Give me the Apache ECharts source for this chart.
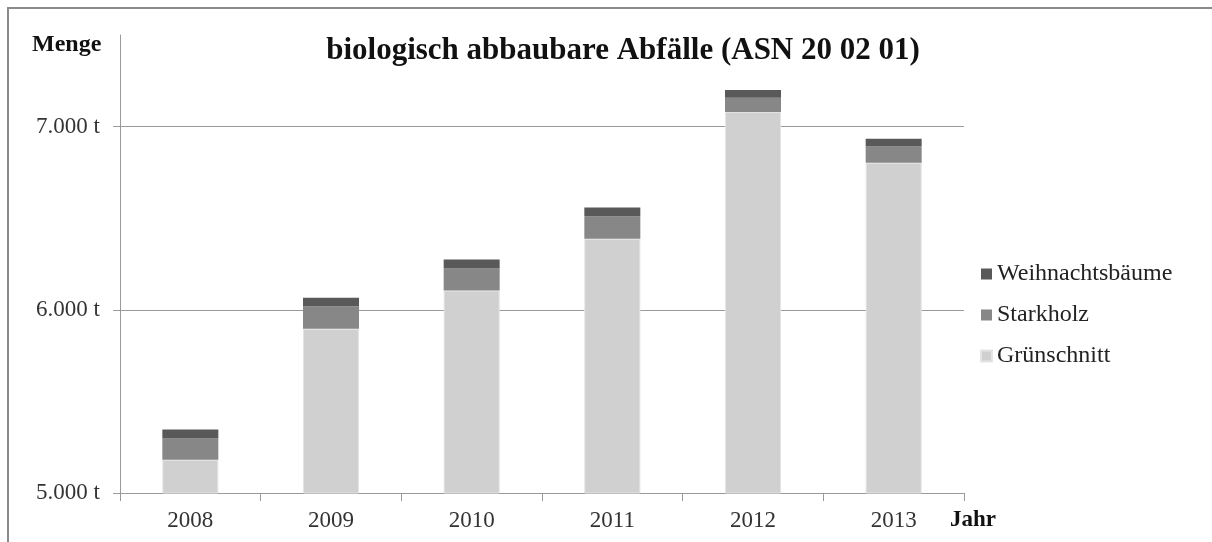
<!DOCTYPE html>
<html>
<head>
<meta charset="utf-8">
<script src="https://cdn.jsdelivr.net/npm/echarts@6/dist/echarts.min.js"></script>
<style>
  html, body { margin: 0; padding: 0; background: #fff; }
  #chart { width: 1212px; height: 542px; }
</style>
</head>
<body>
<div id="chart"></div>
<script>
// Jahre und Mengen (t)
var years = ['2008', '2009', '2010', '2011', '2012', '2013'];
var gruenschnitt = [5182, 5896, 6105, 6388, 7080, 6803];
var starkholz = [115, 124, 121, 123, 78, 88];
var weihnachtsbaeume = [49, 46, 49, 48, 42, 43];
var yTicks = [5000, 6000, 7000];
var gridLines = [6000, 7000];

var font = '"Liberation Serif", "Times New Roman", serif';
var chart = echarts.init(document.getElementById('chart'));

var option = {
  animation: false,
  textStyle: { fontFamily: font },
  title: {
    text: 'biologisch abbaubare Abfälle (ASN 20 02 01)',
    left: 618,
    top: 30,
    textAlign: 'center',
    textStyle: { fontFamily: font, fontSize: 31, fontWeight: 'bold', color: '#111' }
  },
  legend: {
    orient: 'vertical',
    left: 975,
    top: 257,
    icon: 'rect',
    itemWidth: 11,
    itemHeight: 11,
    itemGap: 17,
    data: ['Weihnachtsbäume', 'Starkholz', 'Grünschnitt'],
    textStyle: { fontFamily: font, fontSize: 24, lineHeight: 23, color: '#222' }
  },
  graphic: [
    { type: 'rect', shape: { x: 8, y: 8, width: 1300, height: 700 },
      style: { fill: 'none', stroke: '#8a8a8a', lineWidth: 2 }, silent: true },
    { type: 'text', left: 32, top: 33,
      style: { text: 'Menge', font: 'bold 24px ' + font, fill: '#111' } },
    { type: 'text', left: 950, top: 509,
      style: { text: 'Jahr', font: 'bold 23px ' + font, fill: '#111' } }
  ],
  grid: { left: 120, right: 248, top: 35, bottom: 49 },
  xAxis: {
    type: 'category',
    data: years,
    axisLine: { lineStyle: { color: '#9a9a9a', width: 1 } },
    axisTick: { show: true, length: 8, lineStyle: { color: '#9a9a9a' } },
    axisLabel: { fontFamily: font, fontSize: 23, color: '#333', margin: 16 }
  },
  yAxis: {
    type: 'value',
    min: 5000,
    max: 7500,
    interval: 1000,
    axisLine: { show: true, lineStyle: { color: '#9a9a9a', width: 1 } },
    axisTick: { show: true, length: 7, customValues: yTicks, lineStyle: { color: '#9a9a9a' } },
    splitLine: { show: false },
    axisLabel: {
      fontFamily: font, fontSize: 23, color: '#333', margin: 20,
      customValues: yTicks,
      formatter: function (v) { return v > 7000 ? '' : (v / 1000).toFixed(3) + ' t'; }
    }
  },
  series: [
    {
      name: 'Grünschnitt', type: 'bar', stack: 'menge', barWidth: 56,
      itemStyle: { color: '#d0d0d0', borderColor: '#e4e4e4', borderWidth: 1 },
      data: gruenschnitt,
      markLine: {
        silent: true, symbol: 'none', z: 1,
        label: { show: false },
        lineStyle: { color: '#9a9a9a', width: 1, type: 'solid' },
        data: gridLines.map(function (v) { return { yAxis: v }; })
      }
    },
    {
      name: 'Starkholz', type: 'bar', stack: 'menge', barWidth: 56,
      itemStyle: { color: '#878787' },
      data: starkholz
    },
    {
      name: 'Weihnachtsbäume', type: 'bar', stack: 'menge', barWidth: 56,
      itemStyle: { color: '#595959' },
      data: weihnachtsbaeume
    }
  ]
};

chart.setOption(option);
</script>
</body>
</html>
